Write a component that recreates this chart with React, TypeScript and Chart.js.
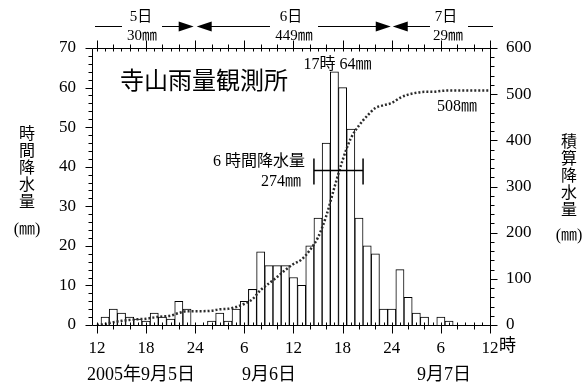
import React, { useEffect, useRef } from 'react';
import { Chart, registerables } from 'chart.js';

Chart.register(...registerables);

// hour slots: 0 = 2005/9/5 12時 ... 48 = 9/7 12時 (bar k = rain in the hour ending at k)
const hourSlots = [
  0, 1, 2, 3, 4, 5, 6, 7, 8, 9, 10, 11, 12, 13, 14, 15, 16, 17, 18, 19, 20, 21, 22, 23, 24,
  25, 26, 27, 28, 29, 30, 31, 32, 33, 34, 35, 36, 37, 38, 39, 40, 41, 42, 43, 44, 45, 46, 47, 48,
];

// hourly rainfall (mm)
const hourlyRain = [
  0, 2, 4, 3, 2, 1.5, 1, 3, 2, 1.5, 6, 4, 0,
  0, 1, 3, 1, 4, 6, 9, 18.5, 15, 15, 15, 12, 10, 20, 27, 46, 64, 60, 49.5, 27, 20, 18, 4, 4,
  14, 7, 3, 2, 0, 2, 1, 0, 0, 0, 0, 0,
];

// cumulative rainfall (mm)
const cumulativeRain = [
  0, 2, 6, 9, 11, 12.5, 13.5, 16.5, 18.5, 20, 26, 30, 30,
  30, 31, 34, 35, 39, 46, 56, 76, 90, 104, 119, 132, 142, 162, 190, 236, 298, 357, 404, 432, 453, 470, 476, 481,
  492, 499, 503, 505, 505, 507, 508, 508, 508, 508, 508, 508,
];

const xTickValues = [0, 6, 12, 18, 24, 30, 36, 42, 48];
const xTickLabels = ['12', '18', '24', '6', '12', '18', '24', '6', '12'];

const FONT = '"Liberation Serif", "Noto Sans CJK JP", serif';

function arrowHead(ctx: CanvasRenderingContext2D, tipX: number, y: number, dir: number) {
  ctx.beginPath();
  ctx.moveTo(tipX, y);
  ctx.lineTo(tipX - dir * 15, y - 5);
  ctx.lineTo(tipX - dir * 15, y + 5);
  ctx.closePath();
  ctx.fill();
}

const overlay = {
  id: 'overlay',
  afterDraw(chart: any) {
    const ctx: CanvasRenderingContext2D = chart.ctx;
    const xs = chart.scales.x;
    const ys = chart.scales.y;
    const ys2 = chart.scales.y2;
    const L = Math.round(xs.left) + 0.5;
    const R = Math.round(xs.right) + 0.5;
    const T = Math.round(ys.top) + 0.5;
    const B = Math.round(ys.bottom) + 0.5;
    ctx.save();
    ctx.setLineDash([]);
    ctx.globalAlpha = 1;
    ctx.strokeStyle = '#000000';
    ctx.fillStyle = '#000000';
    ctx.lineWidth = 1;

    // frame
    ctx.beginPath();
    ctx.moveTo(L, T);
    ctx.lineTo(R, T);
    ctx.lineTo(R, B);
    ctx.lineTo(L, B);
    ctx.closePath();
    ctx.stroke();

    ctx.beginPath();
    // left ticks
    for (let v = 0; v <= 70; v += 2) {
      const py = Math.round(ys.getPixelForValue(v)) + 0.5;
      const len = v % 10 === 0 ? 7 : 4;
      ctx.moveTo(L - len, py);
      ctx.lineTo(L, py);
    }
    // right ticks
    for (let v = 0; v <= 600; v += 20) {
      const py = Math.round(ys2.getPixelForValue(v)) + 0.5;
      const len = v % 100 === 0 ? 7 : 4;
      ctx.moveTo(R, py);
      ctx.lineTo(R + len, py);
    }
    // bottom / top ticks
    for (const k of hourSlots) {
      const px = Math.round(xs.getPixelForValue(k)) + 0.5;
      ctx.moveTo(px, B);
      ctx.lineTo(px, B - 3);
      ctx.moveTo(px, T);
      ctx.lineTo(px, T + 3);
      if (k % 2 === 0) {
        const len = k % 6 === 0 ? 8 : 4;
        ctx.moveTo(px, B);
        ctx.lineTo(px, B + len);
        ctx.moveTo(px, T);
        ctx.lineTo(px, T - len);
      }
    }
    ctx.stroke();

    // 6-hour marker
    const m1 = xs.getPixelForValue(26.5);
    const m2 = xs.getPixelForValue(32.5);
    const my = Math.round(ys2.getPixelForValue(335)) + 0.5;
    ctx.lineWidth = 1.5;
    ctx.beginPath();
    ctx.moveTo(m1, my);
    ctx.lineTo(m2, my);
    ctx.moveTo(m1, my - 12);
    ctx.lineTo(m1, my + 14);
    ctx.moveTo(m2, my - 12);
    ctx.lineTo(m2, my + 14);
    ctx.stroke();

    // top day ranges
    const ty = 26.5;
    const tip5 = xs.getPixelForValue(12) - 1.5;
    const tip6L = xs.getPixelForValue(12) + 1.5;
    const tip6R = xs.getPixelForValue(36) - 1;
    const tip7L = xs.getPixelForValue(36) + 1;
    ctx.lineWidth = 1;
    ctx.beginPath();
    const segs = [
      [95, 122], [162, tip5 - 14], [tip6L + 14, 270], [318, tip6R - 14], [tip7L + 14, 430], [468, 493],
    ];
    for (const [s, e] of segs) {
      ctx.moveTo(s, ty);
      ctx.lineTo(e, ty);
    }
    ctx.stroke();
    arrowHead(ctx, tip5, ty, 1);
    arrowHead(ctx, tip6L, ty, -1);
    arrowHead(ctx, tip6R, ty, 1);
    arrowHead(ctx, tip7L, ty, -1);

    ctx.textBaseline = 'middle';
    ctx.textAlign = 'center';
    ctx.font = '15px ' + FONT;
    ctx.fillText('5日', 141, 17);
    ctx.fillText('30㎜', 142, 36);
    ctx.fillText('6日', 291, 17);
    ctx.fillText('449㎜', 294, 36);
    ctx.fillText('7日', 446, 17);
    ctx.fillText('29㎜', 448, 36);

    // title
    ctx.textAlign = 'left';
    ctx.font = '24px ' + FONT;
    ctx.fillText('寺山雨量観測所', 120, 83);

    // annotations
    ctx.font = '16px ' + FONT;
    ctx.textAlign = 'center';
    ctx.fillText('17時 64㎜', xs.getPixelForValue(29) + 3, ys.getPixelForValue(64) - 7);
    ctx.textAlign = 'right';
    ctx.fillText('6 時間降水量', 305, my - 9);
    ctx.fillText('274㎜', 301, my + 11);
    ctx.textAlign = 'left';
    ctx.fillText('508㎜', 437, 107);

    // axis titles
    ctx.textAlign = 'center';
    ctx.font = '16px ' + FONT;
    const leftChars = ['時', '間', '降', '水', '量'];
    leftChars.forEach((c, i) => ctx.fillText(c, 27, 135 + i * 17));
    ctx.fillText('(㎜)', 27, 230);
    const rightChars = ['積', '算', '降', '水', '量'];
    rightChars.forEach((c, i) => ctx.fillText(c, 569, 143 + i * 17));
    ctx.fillText('(㎜)', 569, 236);

    // x axis extras
    ctx.font = '17px ' + FONT;
    ctx.textAlign = 'left';
    ctx.fillText('時', xs.getPixelForValue(48) + 9, 347);
    ctx.font = '18px ' + FONT;
    ctx.fillText('2005年9月5日', 87, 375);
    ctx.fillText('9月6日', 242, 375);
    ctx.fillText('9月7日', 417, 375);
    ctx.restore();
  },
};

export default function App() {
  const ref = useRef<HTMLCanvasElement | null>(null);
  useEffect(() => {
    if (!ref.current) return;
    const barData = hourSlots
      .filter((k) => k > 0 && k < 48)
      .map((k) => ({ x: k, y: hourlyRain[k] }));
    const lineData = hourSlots.map((k) => ({ x: k, y: cumulativeRain[k] }));
    const chart = new Chart(ref.current, {
      type: 'bar',
      data: {
        datasets: [
          {
            type: 'line',
            data: lineData,
            yAxisID: 'y2',
            borderColor: '#2b2b2b',
            borderWidth: 2.5,
            borderDash: [2, 2],
            pointRadius: 0,
            cubicInterpolationMode: 'monotone',
            order: 0,
          } as any,
          {
            type: 'bar',
            data: barData,
            yAxisID: 'y',
            backgroundColor: '#ffffff',
            borderColor: '#000000',
            borderWidth: 1,
            barPercentage: 1,
            categoryPercentage: 1,
            grouped: false,
            order: 1,
          } as any,
        ],
      },
      options: {
        responsive: false,
        animation: false,
        devicePixelRatio: 1,
        layout: { padding: { top: 48, left: 0, right: 0, bottom: 0 } },
        plugins: { legend: { display: false }, tooltip: { enabled: false } },
        scales: {
          x: {
            type: 'linear',
            offset: false,
            min: -0.6,
            max: 48,
            afterBuildTicks: (s: any) => {
              s.ticks = xTickValues.map((v) => ({ value: v }));
            },
            afterFit: (s: any) => {
              s.height = 62;
            },
            ticks: {
              autoSkip: false,
              maxRotation: 0,
              padding: 5,
              color: '#000',
              font: { family: FONT, size: 17 },
              callback: (v: any) => {
                const i = xTickValues.indexOf(Number(v));
                return i >= 0 ? xTickLabels[i] : '';
              },
            },
            grid: { display: false, offset: false },
            border: { display: false },
          },
          y: {
            type: 'linear',
            position: 'left',
            min: 0,
            max: 70,
            afterFit: (s: any) => {
              s.width = 92;
            },
            ticks: { stepSize: 10, padding: 8, color: '#000', font: { family: FONT, size: 17 } },
            grid: { display: false },
            border: { display: false },
          },
          y2: {
            type: 'linear',
            position: 'right',
            min: 0,
            max: 600,
            afterFit: (s: any) => {
              s.width = 95;
            },
            ticks: { stepSize: 100, padding: 8, color: '#000', font: { family: FONT, size: 17 } },
            grid: { display: false },
            border: { display: false },
          },
        },
      } as any,
      plugins: [overlay],
    });
    return () => chart.destroy();
  }, []);
  return (
    <div style={{ position: 'absolute', left: 0, top: 0, width: 585, height: 387, background: '#fff' }}>
      <canvas ref={ref} width={585} height={387} />
    </div>
  );
}
